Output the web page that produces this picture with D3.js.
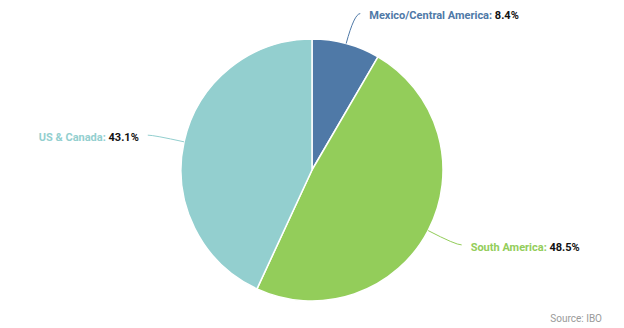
<!DOCTYPE html>
<html>
<head>
<meta charset="utf-8">
<script src="https://cdn.jsdelivr.net/npm/d3@7"></script>
<style>
  html, body { margin: 0; padding: 0; background: #fff; }
  svg { display: block; font-family: Roboto, "Noto Sans", sans-serif; }
</style>
</head>
<body>
<svg id="chart" width="624" height="328"></svg>
<script>
// Regional share (%)
const regions = ["Mexico/Central America", "South America", "US & Canada"];
const shares = [8.4, 48.5, 43.1];
const colors = ["#4f79a7", "#93cd5a", "#93cfcf"];
const sourceText = "Source: IBO";

const svg = d3.select("#chart");
const cx = 312, cy = 170, radius = 131;

const data = regions.map((name, i) => ({ name, value: shares[i], color: colors[i] }));

const pie = d3.pie().value(d => d.value).sort(null);
const arcs = pie(data);

const arc = d3.arc().innerRadius(0).outerRadius(radius);
const edgeArc = d3.arc().innerRadius(radius).outerRadius(radius);
const outerArc = d3.arc().innerRadius(radius + 31).outerRadius(radius + 31);

const g = svg.append("g").attr("transform", `translate(${cx},${cy})`);

g.selectAll("path.slice")
  .data(arcs)
  .join("path")
  .attr("class", "slice")
  .attr("d", arc)
  .attr("fill", d => d.data.color)
  .attr("stroke", "#fff")
  .attr("stroke-width", 1.5)
  .attr("stroke-linejoin", "round");

// Connectors and labels
arcs.forEach(d => {
  const mid = (d.startAngle + d.endAngle) / 2;
  const side = Math.sin(mid) >= 0 ? 1 : -1;
  const p0 = edgeArc.centroid(d);
  const p1 = outerArc.centroid(d);
  const p2 = [p1[0] + side * 6, p1[1]];

  g.append("path")
    .attr("d", `M${p0[0]},${p0[1]} Q${p1[0]},${p1[1]} ${p2[0]},${p2[1]}`)
    .attr("fill", "none")
    .attr("stroke", d.data.color)
    .attr("stroke-width", 1);

  const t = g.append("text")
    .attr("x", p2[0] + side * 9)
    .attr("y", p2[1] + 2)
    .attr("dy", "0.35em")
    .attr("text-anchor", side > 0 ? "start" : "end")
    .attr("font-size", 11)
    .attr("font-weight", "bold");
  t.append("tspan").attr("fill", d.data.color).text(d.data.name + ": ");
  t.append("tspan").attr("fill", "#111").text(d.data.value.toFixed(1) + "%");
});

svg.append("text")
  .attr("x", 602)
  .attr("y", 322)
  .attr("text-anchor", "end")
  .attr("font-size", 10)
  .attr("fill", "#9a9a9a")
  .text(sourceText);
</script>
</body>
</html>
